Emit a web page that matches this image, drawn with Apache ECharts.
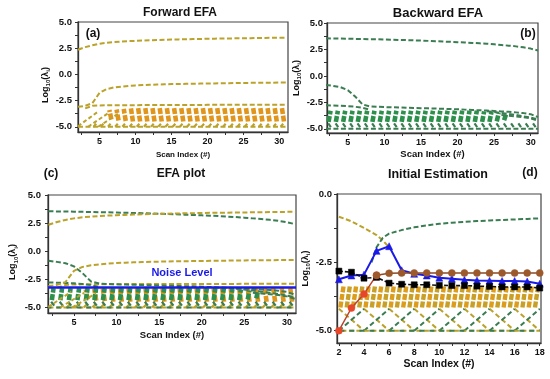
<!DOCTYPE html>
<html><head><meta charset="utf-8">
<script src="https://cdn.jsdelivr.net/npm/echarts@6/dist/echarts.min.js"></script>
<style>html,body{margin:0;padding:0;background:#fff}#c{width:550px;height:379px}</style>
</head><body><div id="c"></div>
<script>
// ---------------- DATA ----------------
const scan = [2,3,4,5,6,7,8,9,10,11,12,13,14,15,16,17,18,19,20,21,22,23,24,25,26,27,28,29,30,31];
// forward EFA eigenvalues (log10)
const fwdTop = [2.35,2.6,2.78,2.92,3.02,3.08,3.13,3.17,3.2,3.23,3.26,3.28,3.3,3.32,3.34,3.36,3.37,3.38,3.4,3.41,3.42,3.43,3.44,3.45,3.46,3.47,3.48,3.49,3.5,3.5];
const fwdSecond = [-3.1,-3.0,-2.75,-1.75,-1.4,-1.25,-1.17,-1.1,-1.05,-1.02,-0.99,-0.97,-0.95,-0.93,-0.92,-0.9,-0.89,-0.88,-0.87,-0.86,-0.85,-0.84,-0.83,-0.82,-0.81,-0.8,-0.8,-0.79,-0.78,-0.78];
const fwdThirdX = [3,4,5,6,7,8,9,10,11,12,13,14,15,16,17,18,19,20,21,22,23,24,25,26,27,28,29,30,31];
const fwdThird = [-3.25,-3.0,-2.96,-2.95,-2.95,-2.94,-2.94,-2.94,-2.93,-2.93,-2.93,-2.93,-2.92,-2.92,-2.92,-2.92,-2.92,-2.91,-2.91,-2.91,-2.91,-2.91,-2.9,-2.9,-2.9,-2.9,-2.9,-2.9,-2.9];
const riseAX0 = [2,3.4,4.8], riseAY0 = [-4.95,-5.0,-5.0];
const riseAX1 = [4.7,6.2,7.6], riseAY1 = [-3.6,-3.7,-3.75];
const bandAIdx = [6,7,8,9,10,11,12,13,14,15,16,17,18,19,20,21,22,23,24,25,26,27,28,29,30];
const bandATop = [-3.4,-3.35,-3.3,-3.25,-3.22,-3.22,-3.22,-3.22,-3.22,-3.22,-3.22,-3.22,-3.22,-3.22,-3.22,-3.22,-3.22,-3.22,-3.22,-3.22,-3.22,-3.22,-3.22,-3.22,-3.22];
const bandABot = [-4.3,-4.4,-4.45,-4.5,-4.5,-4.5,-4.5,-4.5,-4.5,-4.5,-4.5,-4.5,-4.5,-4.5,-4.5,-4.5,-4.5,-4.5,-4.5,-4.5,-4.5,-4.5,-4.5,-4.5,-4.5];
const marksAIdx = [4,5,6,7,8,9,10,11,12,13,14,15,16,17,18,19,20,21,22,23,24,25,26,27,28,29,30];
const marksALevels = [-5.0,-4.72];
// backward EFA eigenvalues (log10)
const bwdTop = [3.55,3.54,3.53,3.52,3.5,3.49,3.47,3.46,3.44,3.42,3.4,3.38,3.36,3.34,3.31,3.28,3.25,3.22,3.19,3.16,3.12,3.08,3.04,2.98,2.92,2.86,2.79,2.7,2.58,2.4];
const bwdSecond = [-0.85,-0.95,-1.07,-1.35,-1.95,-2.7,-2.88,-2.92,-2.95,-2.97,-2.99,-3.01,-3.03,-3.05,-3.07,-3.09,-3.11,-3.13,-3.16,-3.19,-3.22,-3.25,-3.28,-3.32,-3.36,-3.4,-3.45,-3.52,-3.62,-3.9];
const bwdThirdX = [2,3,4,5,6,7,8], bwdThird = [-2.78,-2.8,-2.82,-2.86,-2.92,-3.02,-3.2];
const bwdFan1X = [24,25,26,27,28,29,30,31], bwdFan1 = [-3.35,-3.42,-3.5,-3.6,-3.7,-3.82,-3.95,-4.1];
const bwdFan2X = [26,27,28,29,30,31], bwdFan2 = [-3.7,-3.76,-3.83,-3.9,-4.02,-4.25];
const bandBIdx = [2,3,4,5,6,7,8,9,10,11,12,13,14,15,16,17,18,19,20,21,22,23,24,25,26];
const bandBTop = [-3.3,-3.3,-3.3,-3.3,-3.3,-3.3,-3.3,-3.3,-3.3,-3.3,-3.3,-3.3,-3.3,-3.3,-3.3,-3.3,-3.3,-3.3,-3.3,-3.3,-3.3,-3.35,-3.4,-3.5,-3.62];
const bandBBot = [-4.35,-4.35,-4.35,-4.35,-4.35,-4.35,-4.35,-4.35,-4.35,-4.35,-4.35,-4.35,-4.35,-4.35,-4.35,-4.35,-4.35,-4.35,-4.35,-4.35,-4.35,-4.35,-4.35,-4.3,-4.2];
const marksBIdx = [2,3,4,5,6,7,8,9,10,11,12,13,14,15,16,17,18,19,20,21,22,23,24,25,26,27,28,29,30];
const marksBLevels = [-4.85,-4.5];
const floorX = [2,31], floorY = [-5.0,-5.0];
const noiseLevel = -3.25;
// initial estimation panel
const scanD = [2,3,4,5,6,7,8,9,10,11,12,13,14,15,16,17,18];
const dBlue = [-3.12,-2.98,-2.95,-2.08,-1.91,-2.79,-2.92,-2.98,-3.06,-3.1,-3.14,-3.16,-3.17,-3.18,-3.18,-3.2,-3.28];
const dBlack = [-2.82,-2.86,-3.08,-3.05,-3.26,-3.3,-3.32,-3.32,-3.34,-3.35,-3.35,-3.37,-3.38,-3.4,-3.4,-3.4,-3.44];
const dRedX = [2,3,4,5], dRed = [-5.0,-4.17,-3.66,-2.97];
const dBrownX = [5,6,7,8,9,10,11,12,13,14,15,16,17,18];
const dBrown = [-2.97,-2.9,-2.89,-2.89,-2.89,-2.89,-2.89,-2.89,-2.89,-2.89,-2.89,-2.89,-2.89,-2.89];
const dOliveX = [2,3,4,5,5.5,6], dOlive = [-0.83,-1.0,-1.24,-1.5,-1.7,-1.95];
const dGreenX = [4.6,5,5.5,6,7,8,9,10,11,12,13,14,15,16,17,18];
const dGreen = [-2.5,-1.95,-1.6,-1.45,-1.32,-1.22,-1.15,-1.09,-1.05,-1.02,-0.99,-0.97,-0.95,-0.93,-0.91,-0.89];
const bandDIdx = [2,3,4,5,6,7,8,9,10,11,12,13,14,15,16,17];
const bandDLevels = [-4.15,-3.35];
const crossDStart = [2,4,6,8,10,12,14,16], crossDEnd = [4,6,8,10,12,14,16,18];
const crossDLevels = [-4.2,-5.0];
const floorDX = [2.2,18], floorDY = [-5.0,-5.0];
// tick labels
const xTicks30 = [2.5,5,7.5,10,12.5,15,17.5,20,22.5,25,27.5,30];
const xLabels30 = [5,10,15,20,25,30];
const yTicks10 = [-5,-3.75,-2.5,-1.25,0,1.25,2.5,3.75,5];
const yLabels10 = [-5,-2.5,0,2.5,5];
const xTicksD = [2,3,4,5,6,7,8,9,10,11,12,13,14,15,16,17,18];
const xLabelsD = [2,4,6,8,10,12,14,16,18];
const yTicksD = [-5,-3.75,-2.5,-1.25,0];
const yLabelsD = [-5,-2.5,0];

// ---------------- HELPERS ----------------
const FONT = '"Liberation Sans", Arial, sans-serif';
const OLIVE = '#bba22a', ORANGE = '#e0961c', GREEN = '#3b7d52', GREENB = '#2c8f4b', BLUE = '#1a1ae8';
const BR = ['-','-'];
const xy = (xs, ys) => xs.map((x, i) => [x, ys[i]]);
function segList(x0, y0, x1, y1) { const d = []; x0.forEach((x, i) => d.push([x, y0[i]], [x1[i], y1[i]], BR)); return d; }
function blocks(idx, top, bot, off, sl) { const d = []; idx.forEach((k, i) => d.push([k + off - sl, bot[i]], [k + off + sl, top[i]], BR)); return d; }
function blocksConst(idx, lv, off, sl) { const d = []; idx.forEach(k => d.push([k + off - sl, lv[0]], [k + off + sl, lv[1]], BR)); return d; }
function ln(g, data, color, width, dash, extra) {
  return Object.assign({ type: 'line', xAxisIndex: g, yAxisIndex: g, data, symbol: 'none', showSymbol: false,
    connectNulls: false, animation: false, silent: true,
    lineStyle: { color, width, type: dash || 'solid', cap: 'butt' } }, extra || {});
}
function mk(g, data, color, lineColor, width, symbol, size, dash) {
  return { type: 'line', xAxisIndex: g, yAxisIndex: g, data, symbol, symbolSize: size, showSymbol: true,
    animation: false, silent: true, itemStyle: { color, borderColor: color, borderWidth: 0.5, opacity: 1 },
    lineStyle: { color: lineColor, width, type: dash || 'solid' } };
}
const DASH = [5, 2.5];
const BLK = [6, 1.6];
const yName = '{a|Log}{b|10}{a|(λ}{b|i}{a|)}';
function nameRich(pad) {
  return { padding: pad, rich: {
    a: { fontSize: 9, fontWeight: 'bold', fontFamily: FONT, color: '#111', lineHeight: 12 },
    b: { fontSize: 6, fontWeight: 'bold', fontFamily: FONT, color: '#111', lineHeight: 7, verticalAlign: 'bottom' } } };
}
function xAx(g, min, max, ticks, labels, nameSize, nameGap) {
  return { gridIndex: g, type: 'value', min, max,
    axisLine: { show: true, onZero: false, lineStyle: { color: '#333', width: 1.3 } },
    axisTick: { show: true, length: 3, customValues: ticks, lineStyle: { color: '#333', width: 1 } },
    axisLabel: { customValues: labels, fontSize: 9, fontWeight: 'bold', fontFamily: FONT, color: '#111', margin: 5 },
    splitLine: { show: false },
    name: 'Scan Index (#)', nameLocation: 'middle', nameGap,
    nameTextStyle: { fontSize: nameSize, fontWeight: 'bold', fontFamily: FONT, color: '#111' } };
}
function yAx(g, min, max, ticks, labels, margin, nameGap, pad) {
  return { gridIndex: g, type: 'value', min, max,
    axisLine: { show: true, onZero: false, lineStyle: { color: '#333', width: 1.3 } },
    axisTick: { show: true, length: 3, customValues: ticks, lineStyle: { color: '#333', width: 1 } },
    axisLabel: { customValues: labels, fontSize: 9.5, fontWeight: 'bold', fontFamily: FONT, color: '#111', margin,
      formatter: v => Number(v).toFixed(1) },
    splitLine: { show: false },
    name: yName, nameLocation: 'middle', nameGap, nameTextStyle: nameRich(pad) };
}
function txt(t, x, y, size, color) {
  return { type: 'text', x, y, silent: true, style: { text: t, fill: color || '#111', fontSize: size, fontWeight: 'bold',
    fontFamily: FONT, textAlign: 'center', textVerticalAlign: 'middle', align: 'center', verticalAlign: 'middle' } };
}
const gridStyle = { show: true, borderColor: '#444', borderWidth: 1.2, backgroundColor: 'transparent', containLabel: false };

// ---------------- SERIES ----------------
const series = [];
// (a) forward
series.push(ln(0, blocks(bandAIdx, bandATop, bandABot, 0.5, -0.14), ORANGE, 4.6, BLK));
series.push(ln(0, blocksConst(marksAIdx, marksALevels, 0.35, 0.18), OLIVE, 2.2, 'solid'));
series.push(ln(0, xy(floorX, floorY), OLIVE, 2, DASH));
series.push(ln(0, segList(riseAX0, riseAY0, riseAX1, riseAY1), OLIVE, 2, [4, 2.5]));
series.push(ln(0, xy(fwdThirdX, fwdThird), OLIVE, 2, DASH));
series.push(ln(0, xy(scan, fwdSecond), OLIVE, 2, DASH));
series.push(ln(0, xy(scan, fwdTop), OLIVE, 2, DASH));
// (b) backward
series.push(ln(1, blocks(bandBIdx, bandBTop, bandBBot, 0.5, 0.14), GREENB, 4.6, BLK));
series.push(ln(1, blocksConst(marksBIdx, marksBLevels, 0.5, -0.18), GREEN, 2.2, 'solid'));
series.push(ln(1, xy(floorX, floorY), GREEN, 2, DASH));
series.push(ln(1, xy(bwdFan2X, bwdFan2), GREEN, 2, DASH));
series.push(ln(1, xy(bwdFan1X, bwdFan1), GREEN, 2, DASH));
series.push(ln(1, xy(bwdThirdX, bwdThird), GREEN, 2, DASH));
series.push(ln(1, xy(scan, bwdSecond), GREEN, 2, DASH));
series.push(ln(1, xy(scan, bwdTop), GREEN, 2, DASH));
// (c) EFA plot
series.push(ln(2, blocks(bandAIdx, bandATop, bandABot, 0.5, -0.12), ORANGE, 4.6, BLK));
series.push(ln(2, blocks(bandBIdx, bandBTop, bandBBot, 0.5, 0.1), GREENB, 4.6, BLK));
series.push(ln(2, blocksConst(marksAIdx, marksALevels, 0.35, 0.18), OLIVE, 2.2, 'solid'));
series.push(ln(2, blocksConst(marksBIdx, marksBLevels, 0.5, -0.18), GREEN, 2.2, 'solid'));
series.push(ln(2, xy(floorX, floorY), OLIVE, 2, DASH));
series.push(ln(2, xy(floorX, floorY), GREEN, 2, [5, 5], { lineStyle: { color: GREEN, width: 2, type: [5, 5], dashOffset: 2 } }));
series.push(ln(2, segList(riseAX0, riseAY0, riseAX1, riseAY1), OLIVE, 2, [4, 2.5]));
series.push(ln(2, xy(bwdFan2X, bwdFan2), GREEN, 2, DASH));
series.push(ln(2, xy(bwdFan1X, bwdFan1), GREEN, 2, DASH));
series.push(ln(2, xy(fwdThirdX, fwdThird), OLIVE, 2, DASH));
series.push(ln(2, xy(bwdThirdX, bwdThird), GREEN, 2, DASH));
series.push(ln(2, xy(scan, bwdSecond), GREEN, 2, DASH));
series.push(ln(2, xy(scan, fwdSecond), OLIVE, 2, DASH));
series.push(ln(2, xy(scan, bwdTop), GREEN, 2, DASH));
series.push(ln(2, xy(scan, fwdTop), OLIVE, 2, DASH, {
  markLine: { silent: true, symbol: 'none', animation: false, label: { show: false },
    lineStyle: { color: BLUE, width: 2.6, type: 'solid' }, data: [{ yAxis: noiseLevel }] } }));
// (d) initial estimation
series.push(ln(3, blocksConst(bandDIdx, bandDLevels, 0.25, 0.13), '#dc9c1c', 4.4, BLK));
series.push(ln(3, blocksConst(bandDIdx, bandDLevels, 0.75, 0.13), '#c6a028', 4.4, BLK));
series.push(ln(3, segList(crossDStart, crossDStart.map(() => crossDLevels[0]), crossDEnd, crossDEnd.map(() => crossDLevels[1])), OLIVE, 2, [5, 3]));
series.push(ln(3, segList(crossDStart, crossDStart.map(() => crossDLevels[1]), crossDEnd, crossDEnd.map(() => crossDLevels[0])), GREEN, 2, [5, 3]));
series.push(ln(3, xy(floorDX, floorDY), OLIVE, 2, DASH));
series.push(ln(3, xy(floorDX, floorDY), GREEN, 2, [5, 5], { lineStyle: { color: GREEN, width: 2, type: [5, 5], dashOffset: 2 } }));
series.push(ln(3, xy(dOliveX, dOlive), OLIVE, 2, DASH));
series.push(ln(3, xy(dGreenX, dGreen), GREEN, 2, DASH));
series.push(mk(3, xy(scanD, dBlue), BLUE, BLUE, 2, 'triangle', 7));
series.push(mk(3, xy(scanD, dBlack), '#000', '#111', 1.6, 'rect', 6, [4, 2]));
series.push(mk(3, xy(dRedX, dRed), '#e8462a', '#b8442c', 1.5, 'circle', 7));
series.push(mk(3, xy(dBrownX, dBrown), '#9c5a2c', '#8a4a24', 1.5, 'circle', 7));

const option = {
  backgroundColor: '#fff',
  animation: false,
  grid: [
    Object.assign({ left: 78, top: 22, width: 210, height: 110 }, gridStyle),
    Object.assign({ left: 327, top: 23, width: 211, height: 110 }, gridStyle),
    Object.assign({ left: 48, top: 195, width: 248, height: 118 }, gridStyle),
    Object.assign({ left: 337, top: 194, width: 204, height: 149 }, gridStyle)
  ],
  xAxis: [
    xAx(0, 2, 31.2, xTicks30, xLabels30, 8, 19),
    xAx(1, 2.15, 31, xTicks30, xLabels30, 9.5, 16),
    xAx(2, 1.95, 31.07, xTicks30, xLabels30, 9.5, 17),
    xAx(3, 1.85, 18.1, xTicksD, xLabelsD, 10.5, 16)
  ],
  yAxis: [
    yAx(0, -5.5, 5, yTicks10, yLabels10, 6, 25, [0, 16, 0, 0]),
    yAx(1, -5.4, 5, yTicks10, yLabels10, 4, 23, 0),
    yAx(2, -5.5, 5, yTicks10, yLabels10, 7, 29, [0, 16, 0, 0]),
    yAx(3, -5.45, 0, yTicksD, yLabelsD, 5, 20, 0)
  ],
  graphic: [
    txt('Forward EFA', 180, 13, 12), txt('Backward EFA', 438, 13, 13),
    txt('EFA plot', 181, 174, 12), txt('Initial Estimation', 438, 175, 12.5),
    txt('(a)', 93, 34, 12), txt('(b)', 528, 34, 12), txt('(c)', 51, 174, 12), txt('(d)', 530, 173, 12),
    txt('Noise Level', 182, 273, 11, BLUE)
  ],
  series
};
const chart = echarts.init(document.getElementById('c'), null, { renderer: 'canvas' });
chart.setOption(option);
</script></body></html>
